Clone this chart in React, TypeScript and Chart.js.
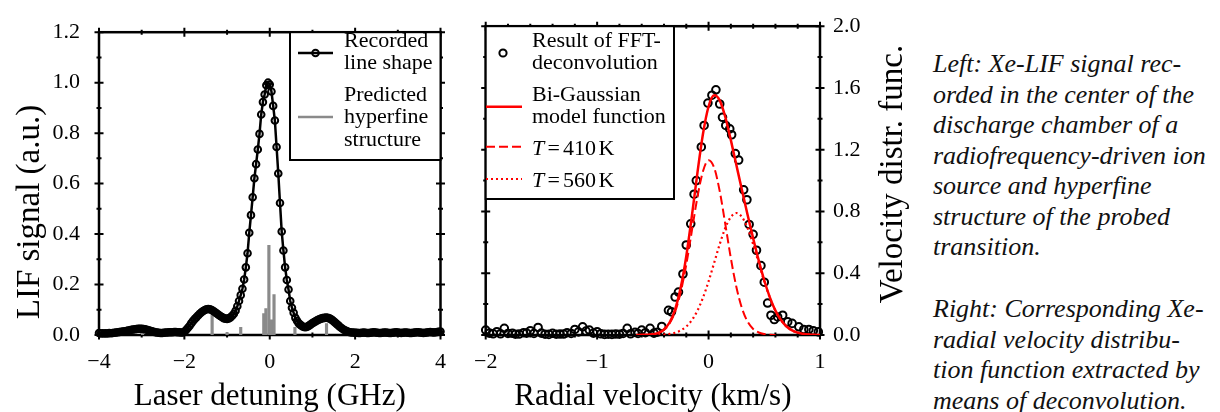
import React, { useEffect, useRef } from 'react';
import { Chart, registerables } from 'chart.js';

Chart.register(...registerables);

const SERIF = '"Liberation Serif", "Times New Roman", serif';

// ---------- Left panel: recorded LIF line shape ----------
const detuningGHz = [
  -4, -3.96, -3.92, -3.88, -3.84, -3.8, -3.76, -3.72, -3.68, -3.64,
  -3.6, -3.56, -3.52, -3.48, -3.44, -3.4, -3.36, -3.32, -3.28, -3.24,
  -3.2, -3.16, -3.12, -3.08, -3.04, -3, -2.96, -2.92, -2.88, -2.84,
  -2.8, -2.76, -2.72, -2.68, -2.64, -2.6, -2.56, -2.52, -2.48, -2.44,
  -2.4, -2.36, -2.32, -2.28, -2.24, -2.2, -2.16, -2.12, -2.08, -2.04,
  -2, -1.96, -1.92, -1.88, -1.84, -1.8, -1.76, -1.72, -1.68, -1.64,
  -1.6, -1.56, -1.52, -1.48, -1.44, -1.4, -1.36, -1.32, -1.28, -1.24,
  -1.2, -1.16, -1.12, -1.08, -1.04, -1, -0.96, -0.92, -0.88, -0.84,
  -0.8, -0.76, -0.72, -0.68, -0.64, -0.6, -0.56, -0.52, -0.48, -0.44,
  -0.4, -0.36, -0.32, -0.28, -0.24, -0.2, -0.16, -0.12, -0.08, -0.04,
  0, 0.04, 0.08, 0.12, 0.16, 0.2, 0.24, 0.28, 0.32, 0.36,
  0.4, 0.44, 0.48, 0.52, 0.56, 0.6, 0.64, 0.68, 0.72, 0.76,
  0.8, 0.84, 0.88, 0.92, 0.96, 1, 1.04, 1.08, 1.12, 1.16,
  1.2, 1.24, 1.28, 1.32, 1.36, 1.4, 1.44, 1.48, 1.52, 1.56,
  1.6, 1.64, 1.68, 1.72, 1.76, 1.8, 1.84, 1.88, 1.92, 1.96,
  2, 2.04, 2.08, 2.12, 2.16, 2.2, 2.24, 2.28, 2.32, 2.36,
  2.4, 2.44, 2.48, 2.52, 2.56, 2.6, 2.64, 2.68, 2.72, 2.76,
  2.8, 2.84, 2.88, 2.92, 2.96, 3, 3.04, 3.08, 3.12, 3.16,
  3.2, 3.24, 3.28, 3.32, 3.36, 3.4, 3.44, 3.48, 3.52, 3.56,
  3.6, 3.64, 3.68, 3.72, 3.76, 3.8, 3.84, 3.88, 3.92, 3.96,
  4,
];

const lifSignal = [
  0.008, 0.006, 0.007, 0.006, 0.007, 0.006, 0.008, 0.007, 0.008, 0.009,
  0.010, 0.011, 0.012, 0.013, 0.014, 0.015, 0.016, 0.018, 0.019, 0.021,
  0.022, 0.023, 0.024, 0.025, 0.025, 0.025, 0.024, 0.023, 0.021, 0.019,
  0.017, 0.015, 0.013, 0.011, 0.010, 0.009, 0.008, 0.008, 0.009, 0.010,
  0.010, 0.011, 0.011, 0.011, 0.012, 0.012, 0.011, 0.011, 0.010, 0.010,
  0.013, 0.020, 0.028, 0.036, 0.046, 0.055, 0.063, 0.070, 0.077, 0.084,
  0.090, 0.095, 0.099, 0.102, 0.103, 0.102, 0.099, 0.095, 0.090, 0.085,
  0.080, 0.075, 0.071, 0.067, 0.065, 0.064, 0.066, 0.070, 0.076, 0.084,
  0.096, 0.114, 0.135, 0.158, 0.183, 0.220, 0.268, 0.324, 0.405, 0.475,
  0.546, 0.621, 0.677, 0.735, 0.797, 0.874, 0.923, 0.953, 0.990, 1.000,
  0.993, 0.965, 0.908, 0.850, 0.745, 0.640, 0.523, 0.410, 0.335, 0.268,
  0.218, 0.180, 0.135, 0.108, 0.088, 0.068, 0.056, 0.046, 0.040, 0.035,
  0.032, 0.031, 0.033, 0.037, 0.042, 0.047, 0.051, 0.055, 0.059, 0.062,
  0.065, 0.067, 0.068, 0.069, 0.068, 0.066, 0.062, 0.057, 0.051, 0.045,
  0.039, 0.033, 0.028, 0.023, 0.019, 0.016, 0.013, 0.011, 0.010, 0.010,
  0.009, 0.009, 0.008, 0.008, 0.009, 0.010, 0.009, 0.008, 0.008, 0.009,
  0.010, 0.011, 0.010, 0.009, 0.008, 0.008, 0.009, 0.010, 0.010, 0.009,
  0.008, 0.008, 0.009, 0.010, 0.011, 0.010, 0.009, 0.008, 0.009, 0.010,
  0.010, 0.009, 0.008, 0.008, 0.009, 0.010, 0.011, 0.011, 0.010, 0.009,
  0.008, 0.009, 0.010, 0.011, 0.012, 0.011, 0.010, 0.011, 0.012, 0.013,
  0.014,
];

// predicted hyperfine components (position GHz, relative height)
const hfsPosGHz = [-2.98, -1.35, -1.0, -0.68, -0.14, -0.09, -0.02, 0.01, 0.04, 0.1, 0.59, 1.33, 1.84];
const hfsHeight = [0.02, 0.086, 0.01, 0.03, 0.085, 0.105, 0.355, 0.045, 0.06, 0.16, 0.03, 0.045, 0.02];

// ---------- Right panel: velocity distribution ----------
const velocityKms = [
  -2.0, -1.967, -1.933, -1.9, -1.867, -1.833, -1.8, -1.76, -1.733, -1.7,
  -1.66, -1.633, -1.6, -1.567, -1.53, -1.5, -1.467, -1.433, -1.4, -1.367,
  -1.333, -1.3, -1.27, -1.233, -1.2, -1.167, -1.13, -1.1, -1.07, -1.033,
  -1.0, -0.967, -0.933, -0.9, -0.867, -0.833, -0.8, -0.767, -0.73, -0.7,
  -0.66, -0.633, -0.6, -0.567, -0.525, -0.49, -0.46, -0.42, -0.36, -0.333,
  -0.3, -0.27, -0.23, -0.2, -0.16, -0.13, -0.11, -0.065, -0.04, -0.006,
  0.03, 0.066, 0.1, 0.125, 0.154, 0.19, 0.207, 0.24, 0.27, 0.315,
  0.344, 0.364, 0.4, 0.43, 0.47, 0.5, 0.53, 0.56, 0.59, 0.62,
  0.665, 0.71, 0.75, 0.81, 0.855, 0.9, 0.94, 0.985,
];
const vdfValues = [
  0.032, 0.012, 0.008, 0.021, 0.008, 0.043, 0.010, 0.011, 0.005, 0.006,
  0.015, 0.012, 0.028, 0.010, 0.049, 0.012, 0.005, 0.004, 0.011, 0.005,
  0.006, 0.006, 0.015, 0.010, 0.036, 0.020, 0.053, 0.025, 0.032, 0.012,
  0.021, 0.008, 0.004, 0.005, 0.004, 0.006, 0.005, 0.010, 0.043, 0.008,
  0.017, 0.010, 0.032, 0.015, 0.043, 0.012, 0.018, 0.055, 0.160, 0.150,
  0.246, 0.278, 0.395, 0.583, 0.720, 0.912, 1.000, 1.218, 1.357, 1.502,
  1.553, 1.588, 1.496, 1.410, 1.357, 1.335, 1.297, 1.175, 1.133, 0.940,
  0.876, 0.716, 0.652, 0.549, 0.449, 0.342, 0.207, 0.128, 0.100, 0.117,
  0.128, 0.085, 0.075, 0.053, 0.036, 0.036, 0.028, 0.020,
];

const modelVelocity = [
  -0.75, -0.7, -0.65, -0.6, -0.55, -0.5, -0.45, -0.4, -0.35, -0.3,
  -0.25, -0.2, -0.15, -0.1, -0.05, 0, 0.05, 0.1, 0.15, 0.2,
  0.25, 0.3, 0.35, 0.4, 0.45, 0.5, 0.55, 0.6, 0.65, 0.7,
  0.75, 0.8, 0.85, 0.9, 0.95, 1.0,
];
const biGaussian = [
  null, null, 0, 0.001, 0.002, 0.005, 0.014, 0.036, 0.081, 0.166,
  0.307, 0.511, 0.770, 1.050, 1.303, 1.480, 1.552, 1.520, 1.412, 1.262,
  1.099, 0.937, 0.779, 0.627, 0.483, 0.353, 0.244, 0.158, 0.097, 0.055,
  0.030, 0.015, 0.007, 0.003, 0.001, 0,
];
const comp410K = [
  null, null, null, null, 0, 0.005, 0.013, 0.033, 0.074, 0.151,
  0.278, 0.456, 0.674, 0.893, 1.061, 1.132, 1.084, 0.932, 0.719, 0.497,
  0.309, 0.173, 0.087, 0.039, 0.016, 0.006, 0.002, 0, null, null,
  null, null, null, null, null, null,
];
const comp560K = [
  null, null, null, null, null, null, 0.001, 0.003, 0.007, 0.015,
  0.030, 0.055, 0.096, 0.158, 0.242, 0.347, 0.467, 0.588, 0.693, 0.764,
  0.790, 0.764, 0.693, 0.588, 0.467, 0.347, 0.242, 0.158, 0.096, 0.055,
  0.030, 0.015, 0.007, 0.003, 0.001, null,
];

const captionLeft = [
  'Left: Xe-LIF signal rec-',
  'orded in the center of the',
  'discharge chamber of a',
  'radiofrequency-driven ion',
  'source and hyperfine',
  'structure of the probed',
  'transition.',
];
const captionRight = [
  'Right: Corresponding Xe-',
  'radial velocity distribu-',
  'tion function extracted by',
  'means of deconvolution.',
];

const fmtInt = (v: any) => {
  const n = Math.round(Number(v));
  return n < 0 ? '\u2212' + Math.abs(n) : String(n);
};

function drawFrame(chart: any, xStep: number, xMajor: number, yStep: number, yMajor: number) {
  const { ctx, chartArea: a, scales } = chart;
  const xs = scales.x;
  const ys = scales.y;
  ctx.save();
  ctx.strokeStyle = '#000';
  ctx.lineWidth = 2;
  const nx = Math.round((xs.max - xs.min) / xStep);
  for (let i = 0; i <= nx; i++) {
    const px = xs.getPixelForValue(xs.min + i * xStep);
    const L = i % xMajor === 0 ? 4.5 : 2.5;
    ctx.beginPath();
    ctx.moveTo(px, a.bottom - L);
    ctx.lineTo(px, a.bottom + L);
    ctx.moveTo(px, a.top - L);
    ctx.lineTo(px, a.top + L);
    ctx.stroke();
  }
  const ny = Math.round((ys.max - ys.min) / yStep);
  for (let i = 0; i <= ny; i++) {
    const py = ys.getPixelForValue(ys.min + i * yStep);
    const L = i % yMajor === 0 ? 4.5 : 2.5;
    ctx.beginPath();
    ctx.moveTo(a.left - L, py);
    ctx.lineTo(a.left + L, py);
    ctx.moveTo(a.right - L, py);
    ctx.lineTo(a.right + L, py);
    ctx.stroke();
  }
  ctx.lineWidth = 2.5;
  ctx.strokeRect(a.left, a.top, a.right - a.left, a.bottom - a.top);
  ctx.restore();
}

function txt(ctx: CanvasRenderingContext2D, s: string, x: number, y: number, size = 22, italic = false) {
  ctx.font = `${italic ? 'italic ' : ''}${size}px ${SERIF}`;
  ctx.fillStyle = '#000';
  ctx.textAlign = 'left';
  ctx.textBaseline = 'alphabetic';
  ctx.fillText(s, x, y);
}

function LeftChart() {
  const ref = useRef<HTMLCanvasElement>(null);
  useEffect(() => {
    const decor = {
      id: 'leftDecor',
      beforeDatasetsDraw(chart: any) {
        drawFrame(chart, 1, 2, 0.1, 2);
      },
      afterDraw(chart: any) {
        const { ctx, chartArea: a } = chart;
        ctx.save();
        // axis titles
        ctx.font = `31px ${SERIF}`;
        ctx.fillStyle = '#000';
        ctx.textAlign = 'center';
        ctx.textBaseline = 'alphabetic';
        ctx.fillText('Laser detuning (GHz)', (a.left + a.right) / 2, 405);
        ctx.save();
        ctx.font = `33px ${SERIF}`;
        ctx.translate(39, 212);
        ctx.rotate(-Math.PI / 2);
        ctx.fillText('LIF signal (a.u.)', 0, 0);
        ctx.restore();
        // legend
        ctx.fillStyle = '#fff';
        ctx.fillRect(290, a.top, a.right - 290, 160 - a.top);
        ctx.strokeStyle = '#000';
        ctx.lineWidth = 2;
        ctx.strokeRect(290, a.top, a.right - 290, 160 - a.top);
        ctx.lineWidth = 2.5;
        ctx.beginPath();
        ctx.moveTo(298, 53);
        ctx.lineTo(333, 53);
        ctx.stroke();
        ctx.lineWidth = 2;
        ctx.beginPath();
        ctx.arc(315.5, 53, 3.3, 0, Math.PI * 2);
        ctx.stroke();
        ctx.strokeStyle = '#8a8a8a';
        ctx.lineWidth = 2.5;
        ctx.beginPath();
        ctx.moveTo(298, 117);
        ctx.lineTo(333, 117);
        ctx.stroke();
        txt(ctx, 'Recorded', 344, 47);
        txt(ctx, 'line shape', 344, 69);
        txt(ctx, 'Predicted', 344, 100.5);
        txt(ctx, 'hyperfine', 344, 123);
        txt(ctx, 'structure', 344, 146);
        ctx.restore();
      },
    };
    const chart = new Chart(ref.current!, {
      type: 'line',
      data: {
        datasets: [
          {
            type: 'line',
            label: 'Recorded line shape',
            data: detuningGHz.map((x, i) => ({ x, y: lifSignal[i] })),
            borderColor: '#000',
            borderWidth: 2.5,
            pointRadius: 3.3,
            pointBorderWidth: 2,
            pointBorderColor: '#000',
            pointBackgroundColor: 'rgba(0,0,0,0)',
            tension: 0,
            clip: 6,
          } as any,
          {
            type: 'bar',
            label: 'Predicted hyperfine structure',
            data: hfsPosGHz.map((x, i) => ({ x, y: hfsHeight[i] })),
            backgroundColor: '#8a8a8a',
            borderWidth: 0,
            barThickness: 2.5,
          } as any,
        ],
      },
      options: {
        animation: false,
        responsive: false,
        events: [],
        layout: { padding: { left: 0, top: 23, right: 17, bottom: 0 } },
        plugins: { legend: { display: false }, tooltip: { enabled: false } },
        scales: {
          x: {
            type: 'linear',
            min: -4,
            max: 4,
            offset: false,
            grid: { display: false, drawTicks: false },
            border: { display: false },
            ticks: {
              stepSize: 2,
              padding: 14,
              color: '#000',
              maxRotation: 0,
              autoSkip: false,
              font: { family: SERIF, size: 22 },
              callback: (v: any) => fmtInt(v),
            },
            afterFit: (s: any) => {
              s.height = 77;
            },
          },
          y: {
            type: 'linear',
            min: 0,
            max: 1.2,
            grid: { display: false, drawTicks: false },
            border: { display: false },
            ticks: {
              stepSize: 0.2,
              padding: 19,
              color: '#000',
              font: { family: SERIF, size: 22 },
              callback: (v: any) => Number(v).toFixed(1),
            },
            afterFit: (s: any) => {
              s.width = 99;
            },
          },
        },
      } as any,
      plugins: [decor],
    });
    return () => chart.destroy();
  }, []);
  return (
    <canvas ref={ref} width={460} height={412} style={{ position: 'absolute', left: 0, top: 0, display: 'block' }} />
  );
}

function RightChart() {
  const ref = useRef<HTMLCanvasElement>(null);
  useEffect(() => {
    const decor = {
      id: 'rightDecor',
      beforeDatasetsDraw(chart: any) {
        drawFrame(chart, 0.2, 5, 0.2, 2);
      },
      afterDraw(chart: any) {
        const { ctx, chartArea: a } = chart;
        ctx.save();
        ctx.font = `31px ${SERIF}`;
        ctx.fillStyle = '#000';
        ctx.textAlign = 'center';
        ctx.textBaseline = 'alphabetic';
        ctx.fillText('Radial velocity (km/s)', (a.left + a.right) / 2, 405);
        ctx.save();
        ctx.font = `33px ${SERIF}`;
        ctx.translate(442, 174);
        ctx.rotate(-Math.PI / 2);
        ctx.fillText('Velocity distr. func.', 0, 0);
        ctx.restore();
        // legend box
        const bx = a.left;
        const bw = 214 - a.left;
        ctx.fillStyle = '#fff';
        ctx.fillRect(bx, a.top, bw, 199 - a.top);
        ctx.strokeStyle = '#000';
        ctx.lineWidth = 2;
        ctx.strokeRect(bx, a.top, bw, 199 - a.top);
        // marker
        ctx.beginPath();
        ctx.arc(43, 53, 3.6, 0, Math.PI * 2);
        ctx.stroke();
        // red samples
        ctx.strokeStyle = '#ff0000';
        ctx.lineWidth = 2.5;
        ctx.beginPath();
        ctx.moveTo(26, 106.7);
        ctx.lineTo(62, 106.7);
        ctx.stroke();
        ctx.lineWidth = 2;
        ctx.setLineDash([9, 4]);
        ctx.beginPath();
        ctx.moveTo(26, 146.7);
        ctx.lineTo(62, 146.7);
        ctx.stroke();
        ctx.setLineDash([2, 3]);
        ctx.lineWidth = 2.2;
        ctx.beginPath();
        ctx.moveTo(26, 179);
        ctx.lineTo(62, 179);
        ctx.stroke();
        ctx.setLineDash([]);
        txt(ctx, 'Result of FFT-', 72, 47);
        txt(ctx, 'deconvolution', 72, 69);
        txt(ctx, 'Bi-Gaussian', 72, 100.5);
        txt(ctx, 'model function', 72, 123);
        txt(ctx, 'T', 72, 155, 22, true);
        txt(ctx, '=', 87.5, 155);
        txt(ctx, '410', 103, 155);
        txt(ctx, 'K', 138.5, 155);
        txt(ctx, 'T', 72, 187, 22, true);
        txt(ctx, '=', 87.5, 187);
        txt(ctx, '560', 103, 187);
        txt(ctx, 'K', 138.5, 187);
        ctx.restore();
      },
    };
    const chart = new Chart(ref.current!, {
      type: 'line',
      data: {
        datasets: [
          {
            label: 'Bi-Gaussian model function',
            data: modelVelocity.map((x, i) => ({ x, y: biGaussian[i] })),
            borderColor: '#ff0000',
            borderWidth: 2.5,
            pointRadius: 0,
            cubicInterpolationMode: 'monotone',
            spanGaps: false,
          } as any,
          {
            label: 'T = 410 K',
            data: modelVelocity.map((x, i) => ({ x, y: comp410K[i] })),
            borderColor: '#ff0000',
            borderWidth: 2,
            borderDash: [9, 4],
            pointRadius: 0,
            cubicInterpolationMode: 'monotone',
            spanGaps: false,
          } as any,
          {
            label: 'T = 560 K',
            data: modelVelocity.map((x, i) => ({ x, y: comp560K[i] })),
            borderColor: '#ff0000',
            borderWidth: 2.2,
            borderDash: [2, 3],
            pointRadius: 0,
            cubicInterpolationMode: 'monotone',
            spanGaps: false,
          } as any,
          {
            label: 'Result of FFT-deconvolution',
            data: velocityKms.map((x, i) => ({ x, y: vdfValues[i] })),
            showLine: false,
            pointRadius: 3.8,
            pointBorderWidth: 2,
            pointBorderColor: '#000',
            pointBackgroundColor: 'rgba(0,0,0,0)',
            clip: 8,
          } as any,
        ],
      },
      options: {
        animation: false,
        responsive: false,
        events: [],
        layout: { padding: { left: 17, top: 23, right: 0, bottom: 0 } },
        plugins: { legend: { display: false }, tooltip: { enabled: false } },
        scales: {
          x: {
            type: 'linear',
            min: -2,
            max: 1,
            offset: false,
            grid: { display: false, drawTicks: false },
            border: { display: false },
            ticks: {
              stepSize: 1,
              padding: 14,
              color: '#000',
              maxRotation: 0,
              autoSkip: false,
              font: { family: SERIF, size: 22 },
              callback: (v: any) => fmtInt(v),
            },
            afterFit: (s: any) => {
              s.height = 77;
            },
          },
          y: {
            type: 'linear',
            position: 'right',
            min: 0,
            max: 2,
            grid: { display: false, drawTicks: false },
            border: { display: false },
            ticks: {
              stepSize: 0.4,
              padding: 13,
              color: '#000',
              font: { family: SERIF, size: 22 },
              callback: (v: any) => Number(v).toFixed(1),
            },
            afterFit: (s: any) => {
              s.width = 100;
            },
          },
        },
      } as any,
      plugins: [decor],
    });
    return () => chart.destroy();
  }, []);
  return (
    <canvas ref={ref} width={460} height={412} style={{ position: 'absolute', left: 460, top: 0, display: 'block' }} />
  );
}

export default function App() {
  const capStyle: React.CSSProperties = {
    position: 'absolute',
    left: 933,
    font: `italic 26px ${SERIF}`,
    lineHeight: '30.5px',
    whiteSpace: 'pre',
    color: '#111',
    margin: 0,
  };
  return (
    <div style={{ position: 'absolute', left: 0, top: 0, width: 1220, height: 412, background: '#fff', overflow: 'hidden' }}>
      <LeftChart />
      <RightChart />
      <div style={{ ...capStyle, top: 49 }}>{captionLeft.join('\n')}</div>
      <div style={{ ...capStyle, top: 294 }}>{captionRight.join('\n')}</div>
    </div>
  );
}
